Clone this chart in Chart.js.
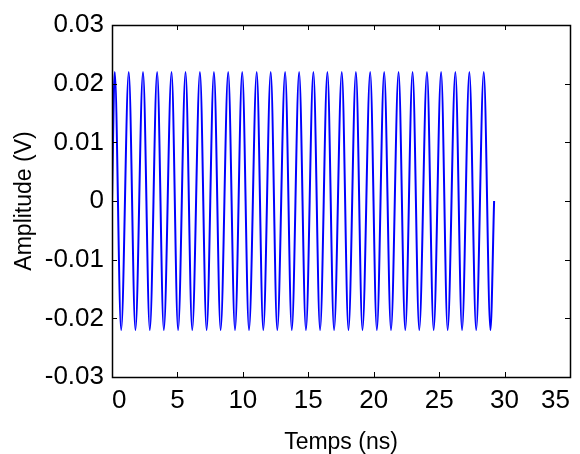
<!DOCTYPE html>
<html>
<head>
<meta charset="utf-8">
<script src="https://cdn.jsdelivr.net/npm/chart.js@4/dist/chart.umd.min.js"></script>
<style>
  html, body { margin: 0; padding: 0; background: #fff; }
  #wrap { width: 580px; height: 454px; }
</style>
</head>
<body>
<div id="wrap"><canvas id="chart" width="580" height="454"></canvas></div>
<script>
// times (ns) of each crest and trough
const peakTimes = [0.21, 1.28, 2.37, 3.45, 4.55, 5.62, 6.72, 7.79, 8.88, 9.95,
  11.06, 12.13, 13.23, 14.30, 15.39, 16.46, 17.56, 18.64, 19.73, 20.80,
  21.90, 22.97, 24.07, 25.15, 26.24, 27.31, 28.41]
const troughTimes = [0.70, 1.79, 2.89, 3.96, 5.05, 6.13, 7.23, 8.30, 9.40, 10.47,
  11.56, 12.63, 13.74, 14.82, 15.90, 16.97, 18.07, 19.14, 20.24, 21.32,
  22.41, 23.48, 24.58, 25.65, 26.75, 27.83, 28.92]
const peakAmp = 0.022
const troughAmp = -0.022
const startPoint = { x: 0, y: 0 }
const endPoint = { x: 29.2, y: 0 }

const xTicks = [0, 5, 10, 15, 20, 25, 30, 35]
const yTicks = [-0.03, -0.02, -0.01, 0, 0.01, 0.02, 0.03]

const FONT = 'Arial, "Liberation Sans", Helvetica, sans-serif'

function signalPoints() {
  const pts = [startPoint]
  peakTimes.forEach((t, i) => {
    pts.push({ x: t, y: peakAmp })
    pts.push({ x: troughTimes[i], y: troughAmp })
  })
  pts.push(endPoint)
  return pts
}

// MATLAB style box with ticks pointing inward on all four sides
const boxTicks = {
  id: 'boxTicks',
  afterDatasetsDraw(chart) {
    const { ctx, chartArea: a, scales } = chart
    const len = 5
    ctx.save()
    ctx.strokeStyle = '#000'
    ctx.lineWidth = 1
    ctx.beginPath()
    xTicks.forEach(v => {
      const px = Math.round(scales.x.getPixelForValue(v)) + 0.5
      ctx.moveTo(px, a.bottom); ctx.lineTo(px, a.bottom - len)
      ctx.moveTo(px, a.top); ctx.lineTo(px, a.top + len)
    })
    yTicks.forEach(v => {
      const py = Math.round(scales.y.getPixelForValue(v)) + 0.5
      ctx.moveTo(a.left, py); ctx.lineTo(a.left + len, py)
      ctx.moveTo(a.right, py); ctx.lineTo(a.right - len, py)
    })
    ctx.stroke()
    ctx.lineWidth = 1.5
    ctx.strokeRect(Math.round(a.left) + 0.5, Math.round(a.top) + 0.5,
      Math.round(a.right - a.left), Math.round(a.bottom - a.top))
    ctx.restore()
  }
}

new Chart(document.getElementById('chart'), {
  type: 'line',
  data: {
    datasets: [{
      data: signalPoints(),
      borderColor: '#0000ff',
      borderWidth: 2,
      pointRadius: 0,
      cubicInterpolationMode: 'monotone',
      fill: false
    }]
  },
  options: {
    responsive: false,
    animation: false,
    layout: { padding: { left: 0, right: 10, top: 25, bottom: 0 } },
    plugins: { legend: { display: false }, tooltip: { enabled: false } },
    scales: {
      x: {
        type: 'linear',
        min: 0,
        max: 35,
        afterFit: s => { s.height = 77 },
        afterBuildTicks: s => { s.ticks = xTicks.map(v => ({ value: v })) },
        grid: { display: false, drawTicks: false },
        border: { display: false },
        ticks: {
          align: 'inner',
          padding: 8,
          color: '#000',
          font: { family: FONT, size: 26 },
          maxRotation: 0
        },
        title: {
          display: true,
          text: 'Temps (ns)',
          color: '#000',
          font: { family: FONT, size: 23, lineHeight: 1 },
          padding: { top: 0, bottom: 0 }
        }
      },
      y: {
        min: -0.03,
        max: 0.03,
        afterFit: s => { s.width = 112 },
        afterBuildTicks: s => { s.ticks = yTicks.map(v => ({ value: v })) },
        grid: { display: false, drawTicks: false },
        border: { display: false },
        ticks: {
          padding: 8,
          color: '#000',
          font: { family: FONT, size: 26 },
          callback: v => (Math.abs(v) < 1e-9 ? '0' : v.toFixed(2))
        },
        title: {
          display: true,
          text: 'Amplitude (V)',
          color: '#000',
          font: { family: FONT, size: 23, lineHeight: 1 },
          padding: { top: 13, bottom: 0 }
        }
      }
    }
  },
  plugins: [boxTicks]
})
</script>
</body>
</html>
